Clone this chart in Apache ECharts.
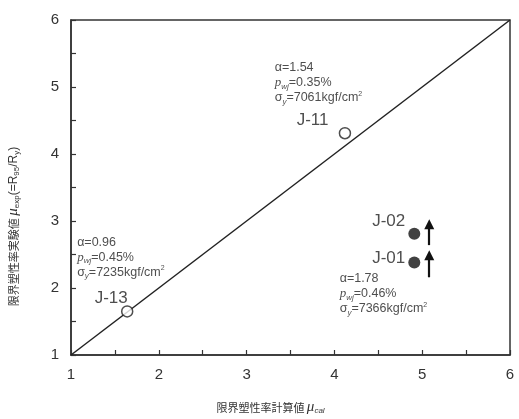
<!DOCTYPE html>
<html>
<head>
<meta charset="utf-8">
<script src="https://cdn.jsdelivr.net/npm/echarts@6/dist/echarts.min.js"></script>
<style>
  html, body { margin: 0; padding: 0; background: #fff; }
  #chart { width: 519px; height: 419px; }
</style>
</head>
<body>
<div id="chart"></div>
<script>
const FONT = '"Liberation Sans", Arial, "Noto Sans CJK JP", sans-serif';

// 1:1 line
const diagonal = [[1, 1], [6, 6]];
// open circles
const openPoints = [[4.12, 4.31], [1.64, 1.65]];
// filled circles
const filledPoints = [[4.91, 2.81], [4.91, 2.38]];
// upward arrows [from, to]
const arrows = [
  [[5.08, 2.64], [5.08, 2.95]],
  [[5.08, 2.16], [5.08, 2.49]],
];
// specimen names and where they sit
const specimenNames = ['J-11', 'J-13', 'J-02', 'J-01'];
const specimenLabelPos = [[3.57, 4.51], [1.27, 1.85], [4.43, 2.99], [4.43, 2.45]];
// property blocks: alpha, p_wj, sigma_y
const alphas = ['1.54', '0.96', '1.78'];
const pwj = ['0.35', '0.45', '0.46'];
const sigmaY = ['7061', '7235', '7366'];
const blockPos = [[3.32, 5.06], [1.07, 2.46], [4.06, 1.91]];

const chart = echarts.init(document.getElementById('chart'));

const blockRich = {
  t: { fontSize: 12.5, color: '#222', fontFamily: FONT, lineHeight: 15 },
  pi: { fontSize: 13, color: '#222', fontFamily: 'Liberation Serif, serif', fontStyle: 'italic', lineHeight: 15 },
  sub: { fontSize: 8, color: '#222', fontFamily: FONT, fontStyle: 'italic', verticalAlign: 'bottom', lineHeight: 15 },
  sup: { fontSize: 7, color: '#222', fontFamily: FONT, verticalAlign: 'top', lineHeight: 15 },
};

function blockText(i) {
  return '{t|α=' + alphas[i] + '}\n' +
    '{pi|p}{sub|wj}{t|=' + pwj[i] + '%}\n' +
    '{t|σ}{sub|y}{t|=' + sigmaY[i] + 'kgf/cm}{sup|2}';
}

const axisCommon = {
  type: 'value',
  min: 1,
  max: 6,
  interval: 1,
  axisLine: { show: true, lineStyle: { color: '#333', width: 1.5 } },
  axisTick: { show: true, inside: true, length: 5, lineStyle: { color: '#333', width: 1.2 } },
  minorTick: { show: true, splitNumber: 2, length: 5, lineStyle: { color: '#333', width: 1.2 } },
  splitLine: { show: false },
  axisLabel: { color: '#333', fontSize: 15, fontFamily: FONT, margin: 12 },
};

chart.setOption({
  animation: false,
  backgroundColor: '#fff',
  grid: {
    left: 71, right: 9, top: 20, bottom: 64,
    outerBoundsMode: 'none',
    containLabel: false,
    show: true, borderColor: '#333', borderWidth: 1.5, backgroundColor: 'transparent',
  },
  xAxis: {
    ...axisCommon,
    name: '{t|限界塑性率計算値 }{mu|μ}{sub|cal}',
    nameLocation: 'middle',
    nameGap: 45,
    nameTextStyle: {
      padding: [0, 40, 0, 0],
      rich: {
        t: { fontSize: 11, color: '#333', fontFamily: '"Noto Sans CJK JP", sans-serif' },
        mu: { fontSize: 15, color: '#333', fontFamily: 'Liberation Serif, serif', fontStyle: 'italic' },
        sub: { fontSize: 8, color: '#333', fontFamily: FONT, fontStyle: 'italic', verticalAlign: 'bottom', padding: [6, 0, 0, 0] },
      },
    },
  },
  yAxis: {
    ...axisCommon,
    name: '{t|限界塑性率実験値 }{mu|μ}{sub|exp}{p|(=R}{sub|95}{p|/R}{sub|y}{p|)}',
    nameLocation: 'middle',
    nameGap: 50,
    nameTextStyle: {
      padding: [0, 78, 0, 0],
      rich: {
        t: { fontSize: 11, color: '#333', fontFamily: '"Noto Sans CJK JP", sans-serif' },
        mu: { fontSize: 15, color: '#333', fontFamily: 'Liberation Serif, serif', fontStyle: 'italic' },
        sub: { fontSize: 8, color: '#333', fontFamily: FONT, verticalAlign: 'bottom', padding: [6, 0, 0, 0] },
        p: { fontSize: 12, color: '#333', fontFamily: FONT },
      },
    },
  },
  series: [
    {
      type: 'line',
      data: diagonal,
      symbol: 'none',
      lineStyle: { color: '#222', width: 1.5 },
      z: 1,
    },
    {
      type: 'lines',
      coordinateSystem: 'cartesian2d',
      data: arrows.map((a) => ({ coords: a })),
      symbol: ['none', 'triangle'],
      symbolSize: [0, 10],
      lineStyle: { color: '#111', width: 2.2, opacity: 1 },
      z: 3,
    },
    {
      type: 'scatter',
      data: openPoints,
      symbol: 'circle',
      symbolSize: 11,
      itemStyle: { color: '#fff', borderColor: '#222', borderWidth: 1.5 },
      z: 4,
    },
    {
      type: 'scatter',
      data: filledPoints,
      symbol: 'circle',
      symbolSize: 12,
      itemStyle: { color: '#111' },
      z: 4,
    },
    {
      type: 'scatter',
      data: specimenLabelPos.map((p, i) => ({ value: p, name: specimenNames[i] })),
      symbolSize: 0,
      silent: true,
      label: {
        show: true,
        position: 'right',
        distance: 0,
        formatter: (p) => p.name,
        fontSize: 17,
        color: '#222',
        fontFamily: FONT,
      },
      z: 5,
    },
    {
      type: 'scatter',
      data: blockPos.map((p, i) => ({ value: p, name: String(i) })),
      symbolSize: 0,
      silent: true,
      label: {
        show: true,
        position: 'right',
        distance: 0,
        align: 'left',
        formatter: (p) => blockText(p.dataIndex),
        rich: blockRich,
      },
      z: 5,
    },
  ],
});
</script>
</body>
</html>
